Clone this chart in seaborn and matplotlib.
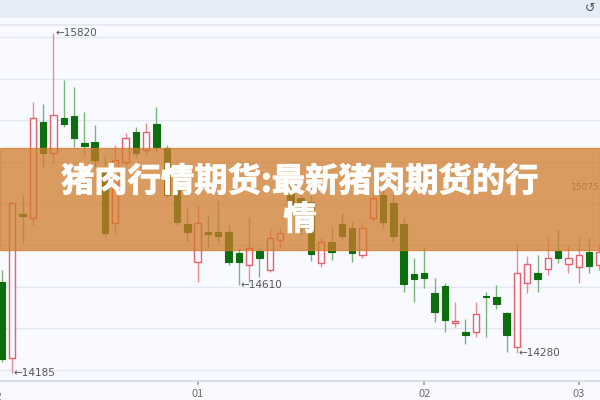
import numpy as np
import seaborn as sns
import matplotlib.pyplot as plt
import matplotlib.patheffects as pe
from matplotlib.patches import Rectangle

# daily OHLC (one candle per trading day)
opens = [14623, 14257, 14950, 14930, 15392, 15243, 15411, 15421, 15291, 15296,
         15171, 14906, 15200, 15344, 15257, 15383, 15267, 15075, 14902, 14719,
         14863, 14863, 14863, 14762, 14704, 14772, 14680, 14825, 15065, 15027,
         15007, 14714, 14815, 14902, 14882, 14752, 14930, 15041, 15003, 14902,
         14661, 14666, 14570, 14603, 14425, 14382, 14382, 14555, 14550, 14473,
         14310, 14618, 14666, 14685, 14772, 14709, 14695, 14767, 14704]
highs = [14680, 15003, 15041, 15488, 15479, 15820, 15594, 15561, 15440, 15378,
         15228, 15282, 15339, 15368, 15387, 15464, 15281, 15099, 14983, 14993,
         14945, 15017, 14897, 14786, 14935, 14786, 14882, 14882, 15104, 15065,
         15041, 14839, 14887, 14955, 14911, 14911, 15051, 15065, 15041, 14930,
         14738, 14786, 14642, 14618, 14526, 14445, 14526, 14574, 14608, 14478,
         14810, 14748, 14752, 14834, 14873, 14800, 14834, 14834, 14800]
lows = [14238, 14185, 14810, 14897, 15176, 15195, 15368, 15272, 15233, 15176,
        14839, 14858, 15185, 15219, 15233, 15248, 15027, 14897, 14815, 14623,
        14786, 14815, 14704, 14610, 14623, 14647, 14671, 14786, 14911, 14849,
        14724, 14695, 14728, 14825, 14719, 14738, 14911, 14882, 14815, 14574,
        14526, 14594, 14430, 14382, 14406, 14324, 14358, 14358, 14493, 14286,
        14280, 14570, 14574, 14656, 14714, 14666, 14618, 14666, 14680]
closes = [14252, 15003, 14940, 15411, 15243, 15426, 15383, 15315, 15277, 15209,
          14858, 15209, 15315, 15243, 15344, 15272, 15041, 14911, 14863, 14906,
          14853, 14844, 14719, 14719, 14786, 14738, 14834, 14858, 14959, 14882,
          14757, 14815, 14767, 14844, 14762, 14882, 15027, 14911, 14844, 14613,
          14637, 14642, 14478, 14440, 14435, 14368, 14469, 14550, 14517, 14368,
          14666, 14709, 14637, 14738, 14738, 14738, 14752, 14700, 14767]

month_pos = [19, 41, 56]
month_labels = ["01", "02", "03"]

# marked extremes: (candle index, price)
marks = [(5, 15820), (1, 14185), (23, 14610), (50, 14280)]

title = "猪肉行情期货:最新猪肉期货的行\n情"

sns.set_theme(style="white")
plt.rcParams['font.family'] = ['Noto Sans CJK SC', 'DejaVu Sans']

bg = '#f8faff'
up_edge, up_wick = '#e8606a', '#ec8d92'
dn_body, dn_wick = '#0d6e0d', '#7cb47c'

fig = plt.figure(figsize=(6, 4), dpi=100, facecolor=bg)
fig.add_artist(Rectangle((0, 1 - 17 / 400), 1, 17 / 400, transform=fig.transFigure,
                         color='#e6ecf6', zorder=0))
ax = fig.add_axes([0, 19 / 400, 1, 356 / 400])
ax.set_facecolor(bg)

o = np.array(opens); h = np.array(highs); l = np.array(lows); c = np.array(closes)
x = np.arange(len(o))
up = c >= o
bot = np.minimum(o, c)
hgt = np.maximum(np.abs(c - o), 3)

ax.vlines(x[up], l[up], h[up], color=up_wick, lw=1, zorder=2)
ax.vlines(x[~up], l[~up], h[~up], color=dn_wick, lw=1, zorder=2)
ax.bar(x[up], hgt[up], bottom=bot[up], width=0.62, facecolor=bg,
       edgecolor=up_edge, lw=1, zorder=3)
ax.bar(x[~up], hgt[~up], bottom=bot[~up], width=0.62, color=dn_body,
       edgecolor=dn_body, lw=0.8, zorder=3)

for i, p in marks:
    ax.text(i + 0.15, p, "←" + str(p), fontsize=7.5, color='#555555',
            ha='left', va='center', family=['DejaVu Sans'], zorder=4)

ax.text(58.05, 15075, "15075", fontsize=6.5, color='#777777', ha='right',
        va='center', family=['DejaVu Sans'], zorder=1)

ax.set_xlim(-0.19, 58.06)
ax.set_ylim(14146, 15859)
ax.set_yticks(range(14200, 15801, 200))
ax.yaxis.grid(True, color='#e2e7f1', lw=1)
ax.tick_params(axis='y', left=False, labelleft=False)
ax.set_xticks(month_pos)
ax.set_xticklabels(month_labels)
ax.tick_params(axis='x', bottom=True, length=3, color='#a0a4ad', labelsize=8,
               labelcolor='#6e7079', pad=3)
# the December label sits mostly off the left edge, as in the original
ax.text(-0.6, -0.03, "12", transform=ax.get_xaxis_transform(), fontsize=8,
        color='#6e7079', ha='center', va='top', family=['DejaVu Sans'])
for s in ['left', 'right']:
    ax.spines[s].set_visible(False)
ax.spines['top'].set_color('#e2e7f1')
ax.spines['bottom'].set_color('#d4dae5')

fig.text(0.992, 0.978, "↺", fontsize=9, color='#555555', ha='right', va='center',
         family=['DejaVu Sans'])

# semi-transparent title banner
fig.add_artist(Rectangle((0, 150 / 400), 1, 102 / 400, transform=fig.transFigure,
                         color='#d07b2b', alpha=0.75, zorder=5))
fig.text(0.5, 0.497, title, fontsize=24, fontweight='heavy', color='white',
         ha='center', va='center', multialignment='center', linespacing=1.2,
         zorder=6,
         path_effects=[pe.Stroke(linewidth=0.7, foreground='white'), pe.Normal()])

fig.savefig('out.png', dpi=100, facecolor=bg)
